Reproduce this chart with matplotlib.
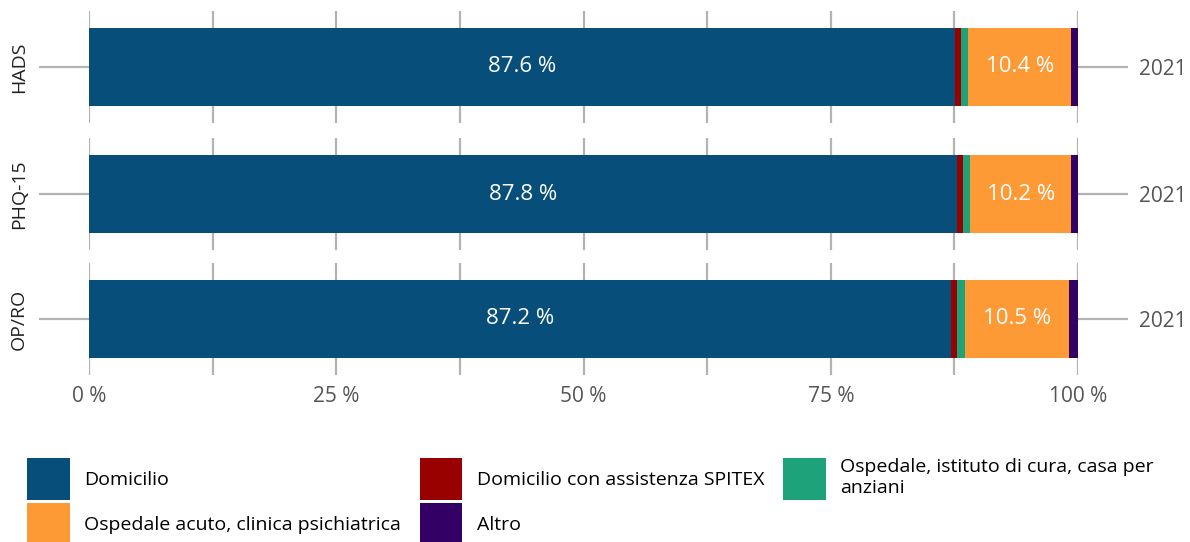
import numpy as np
import matplotlib.pyplot as plt
from matplotlib.patches import Patch

plt.rcParams['font.family'] = ['Open Sans', 'DejaVu Sans']

# data
instruments = ["HADS", "PHQ-15", "OP/RO"]
years = ["2021", "2021", "2021"]
categories = ["Domicilio", "Domicilio con assistenza SPITEX",
              "Ospedale, istituto di cura, casa per\nanziani",
              "Ospedale acuto, clinica psichiatrica", "Altro"]
colors = ["#074f7a", "#990000", "#1ea27a", "#fd9a36", "#330066"]
shares = np.array([
    [87.6, 0.6, 0.7, 10.4, 0.7],
    [87.8, 0.6, 0.7, 10.2, 0.7],
    [87.2, 0.6, 0.8, 10.5, 0.9],
])
labelled = [0, 3]  # segments that get a value label
pct_ticks = [0, 25, 50, 75, 100]

W, H = 1190, 542
fig = plt.figure(figsize=(W / 100, H / 100), dpi=100)

grid_col = "#b3b3b3"
panel_tops = [11, 138, 263]
panel_h = 112
left, right = 89, 1078

for i, name in enumerate(instruments):
    ax = fig.add_axes([left / W, 1 - (panel_tops[i] + panel_h) / H,
                       (right - left) / W, panel_h / H])
    start = 0
    for j in range(len(categories)):
        v = shares[i, j]
        ax.barh(0, v, left=start, height=0.69, color=colors[j], zorder=3)
        if j in labelled:
            ax.text(start + v / 2, 0, f"{v:.1f} %", color="white",
                    ha="center", va="center", fontsize=16, zorder=4)
        start += v
    ax.set_xlim(0, 100)
    ax.set_ylim(-0.5, 0.5)
    ax.set_xticks(pct_ticks)
    ax.set_xticks([12.5, 37.5, 62.5, 87.5], minor=True)
    ax.grid(axis="x", which="both", color=grid_col, linewidth=1.6, zorder=0)
    for s in ax.spines.values():
        s.set_visible(False)
    ax.set_yticks([0])
    ax.set_yticklabels([name], rotation=90, va="center", fontsize=14,
                       color="#222222")
    ax.tick_params(axis="y", length=36, width=1.6, color=grid_col, pad=8)
    ax.tick_params(axis="x", which="both", length=0)
    if i < len(instruments) - 1:
        ax.set_xticklabels([])
    else:
        ax.set_xticklabels([f"{t} %" for t in pct_ticks],
                           fontsize=15, color="#555555")
        ax.tick_params(axis="x", pad=8)
    ax2 = ax.twinx()
    ax2.set_ylim(-0.5, 0.5)
    ax2.set_yticks([0])
    ax2.set_yticklabels([years[i]], fontsize=15, color="#555555")
    ax2.tick_params(axis="y", length=36, width=1.6, color=grid_col, pad=8)
    for s in ax2.spines.values():
        s.set_visible(False)

handles = [Patch(facecolor=c, edgecolor="none") for c in colors]
order = [0, 3, 1, 4, 2]
fig.legend([handles[k] for k in order], [categories[k] for k in order],
           loc="upper left", bbox_to_anchor=(27 / W, 1 - 458 / H), ncol=3,
           frameon=False, fontsize=14, handlelength=2.2, handleheight=2.95,
           labelspacing=0.15, handletextpad=0.75, columnspacing=0.95,
           borderpad=0, borderaxespad=0)

fig.savefig("out.png", dpi=100)
